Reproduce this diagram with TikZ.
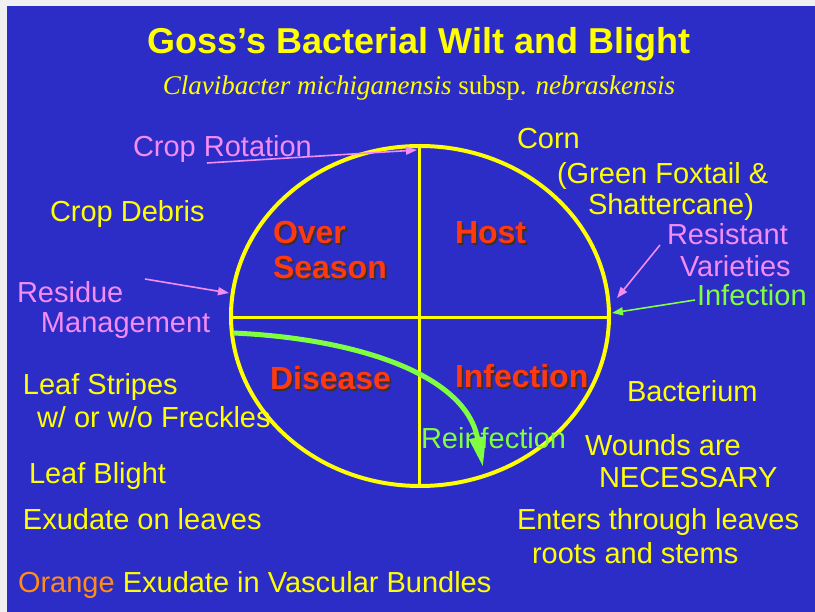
\documentclass[tikz,border=0pt]{standalone}
\usepackage{fontspec}
\setmainfont{Liberation Sans}
\newfontfamily\serifit{Liberation Serif}
\usetikzlibrary{arrows.meta,shapes.geometric}
\definecolor{bg}{HTML}{2C2CC6}
\definecolor{frame}{HTML}{F0F0F0}
\definecolor{ylw}{HTML}{FFFF00}
\definecolor{pnk}{HTML}{F48CF4}
\definecolor{grn}{HTML}{80FF40}
\definecolor{rd}{HTML}{FF3A10}
\definecolor{org}{HTML}{FF8C1A}
\newcommand{\shadowtext}[1]{\rlap{\hspace{1.8pt}\raisebox{-1.8pt}{\textcolor{black!80}{#1}}}#1}
\begin{document}
\begin{tikzpicture}[x=1pt,y=-1pt,
  lbl/.style={anchor=base west, inner sep=0pt, outer sep=0pt, font=\fontsize{29}{32}\selectfont},
  ylbl/.style={lbl, text=ylw},
  plbl/.style={lbl, text=pnk},
  glbl/.style={lbl, text=grn},
  rlbl/.style={anchor=base west, inner sep=0pt, outer sep=0pt, text=rd, font=\fontsize{32}{34}\selectfont\bfseries},
  pinkarrow/.style={draw=pnk, line width=1.6pt, -{Triangle[length=11pt,width=8pt]}},
  greenarrow/.style={draw=grn, line width=1.6pt, -{Triangle[length=11pt,width=8pt]}},
  divider/.style={draw=ylw, line width=3pt}
]
\useasboundingbox (0,0) rectangle (815,612);
\fill[frame] (0,0) rectangle (815,612);
\fill[bg] (7,6) rectangle (815,612);

% title
\node[anchor=base, inner sep=0pt, text=ylw, font=\fontsize{36}{40}\selectfont\bfseries] (title) at (419,54) {Goss’s Bacterial Wilt and Blight};
\node[anchor=base, inner sep=0pt, text=ylw, font=\fontsize{27}{30}\selectfont\serifit] (subtitle) at (419,95) {\itshape Clavibacter michiganensis \upshape subsp. \itshape nebraskensis};

% circle
\node[ellipse, draw=ylw, line width=4pt, inner sep=0pt, outer sep=0pt, minimum width=378pt, minimum height=340pt] (circ) at (420,316) {};
\draw[divider] ([xshift=-1pt]circ.north) -- ([xshift=-1pt]circ.south);
\draw[divider] ([yshift=-2pt]circ.west) -- ([yshift=-2pt]circ.east);

% red quadrant labels with shadow
\node[rlbl] (over) at (273,244) {\shadowtext{Over}};
\node[rlbl] (season) at (273,279) {\shadowtext{Season}};
\node[rlbl] (host) at (455,244) {\shadowtext{Host}};
\node[rlbl] (disease) at (270,390) {\shadowtext{Disease}};
\node[rlbl] (infq) at (455,388) {\shadowtext{Infection}};

% left labels
\node[plbl] (croprot) at (133,157) {Crop Rotation};
\node[ylbl] (debris) at (50,222) {Crop Debris};
\node[plbl] (residue) at (17,303) {Residue};
\node[plbl] (manage) at (41,333) {Management};
\node[ylbl] (stripes) at (23,395) {Leaf Stripes};
\node[ylbl] (freckles) at (37,428) {w/ or w/o Freckles};
\node[ylbl] (blight) at (29,484) {Leaf Blight};
\node[ylbl] (exudate) at (23,530) {Exudate on leaves};
\node[lbl] (vascular) at (18,593) {\textcolor{org}{Orange} \textcolor{ylw}{Exudate in Vascular Bundles}};

% right labels
\node[ylbl] (corn) at (517,149) {Corn};
\node[ylbl] (foxtail) at (557,184) {(Green Foxtail \&};
\node[ylbl] (shatter) at (588,215) {Shattercane)};
\node[plbl] (resist) at (667,245) {Resistant};
\node[plbl] (varieties) at (680,277) {Varieties};
\node[glbl] (infection) at (697,306) {Infection};
\node[ylbl] (bacterium) at (627,402) {Bacterium};
\node[ylbl] (wounds) at (585,456) {Wounds are};
\node[ylbl] (necessary) at (599,488) {NECESSARY};
\node[ylbl] (enters) at (517,530) {Enters through leaves};
\node[ylbl] (roots) at (532,563) {roots and stems};
\node[glbl] (reinf) at (421,449) {Reinfection};

% connectors
\coordinate (crsrc) at (207,163);
\coordinate (crtip) at (417,150);
\draw[pinkarrow] (crsrc) -- (crtip);
\coordinate (rmsrc) at (145,279);
\coordinate (rmtip) at (229,293);
\draw[pinkarrow] (rmsrc) -- (rmtip);
\coordinate (rvsrc) at (660,245);
\coordinate (rvtip) at (617,298);
\draw[pinkarrow] (rvsrc) -- (rvtip);
\coordinate (insrc) at (695,300);
\coordinate (intip) at (612,313);
\draw[greenarrow] (insrc) -- (intip);

% reinfection arc
\coordinate (rfsrc) at (233,333);
\coordinate (rftip) at (483,467);
\draw[grn, line width=5pt, -{Triangle[length=30pt,width=16pt]}] (rfsrc) .. controls (350,338) and (465,372) .. (rftip);
\end{tikzpicture}
\end{document}
